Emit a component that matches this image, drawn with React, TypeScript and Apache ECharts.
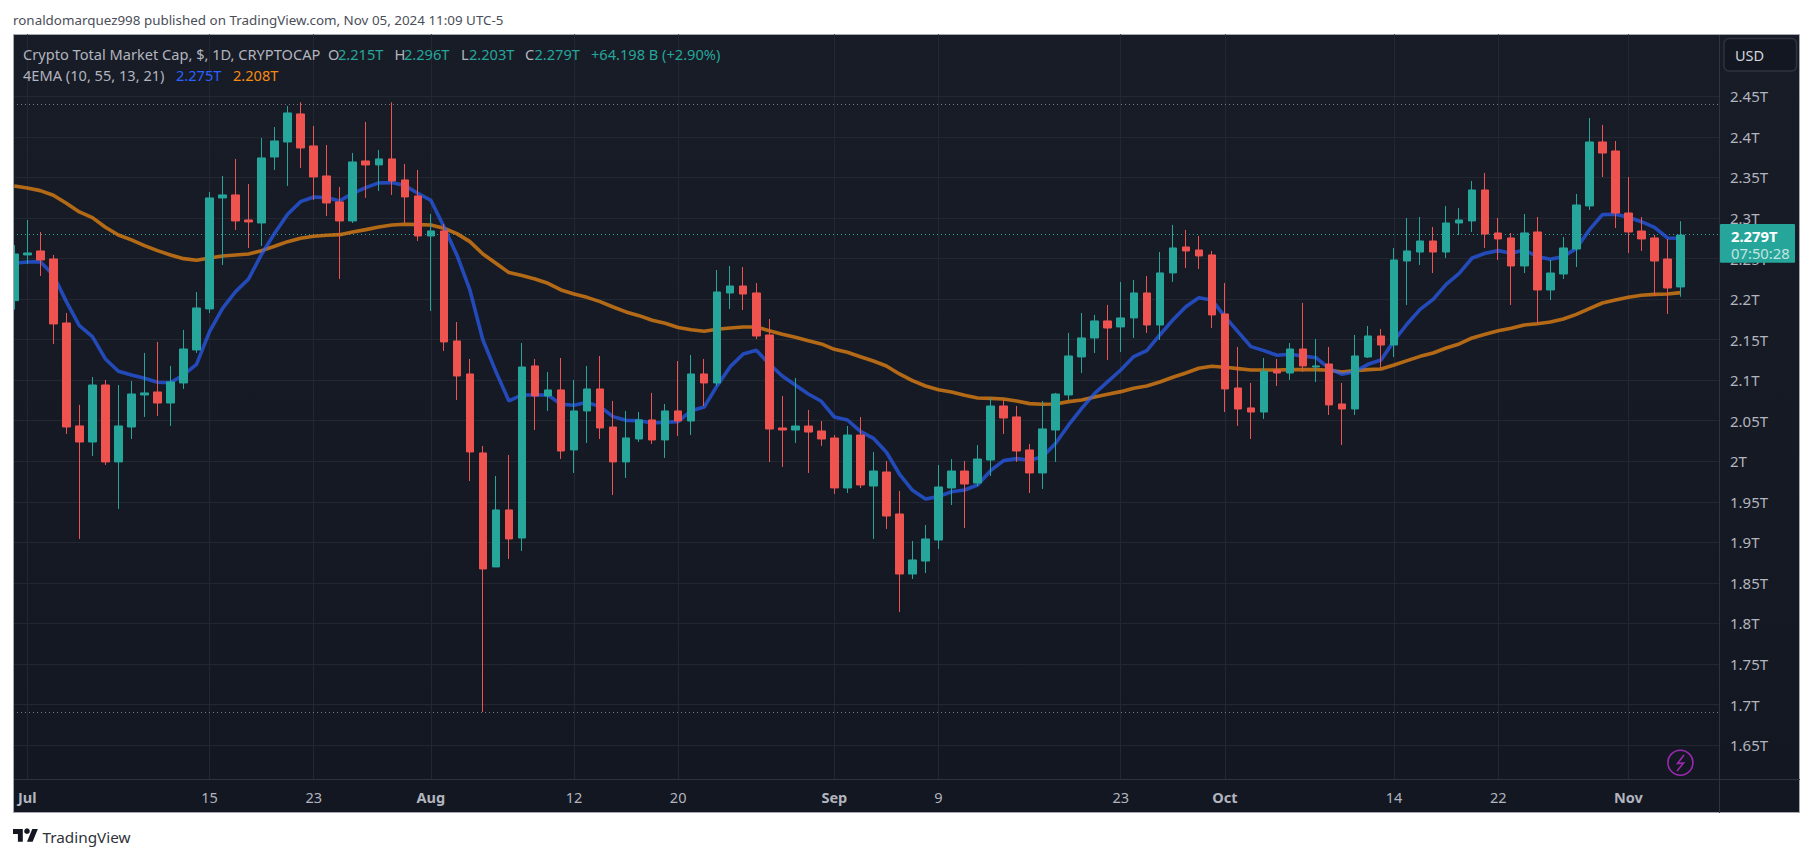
import React, { useEffect, useRef } from "react";
import * as echarts from "echarts";

const FONT = '"Noto Sans", "Open Sans", sans-serif';

// daily candles, Jun 30 2024 .. Nov 5 2024: [open, close, low, high] in trillions of USD
const candles: number[][] = [
  [2.1981,2.2557,2.187,2.2668],[2.2545,2.2569,2.2434,2.2976],[2.2594,2.2483,2.2286,2.2828],[2.2495,2.1694,2.1447,2.2545],
  [2.1706,2.0423,2.0337,2.1829],[2.0436,2.0238,1.9042,2.0695],[2.0238,2.0941,2.0066,2.104],[2.0941,1.9992,1.9955,2.1003],
  [1.9992,2.0436,1.9412,2.0941],[2.0423,2.083,2.0275,2.0991],[2.0818,2.0843,2.0547,2.1336],[2.0855,2.0719,2.0559,2.1472],
  [2.0719,2.0978,2.0436,2.1176],[2.0966,2.1385,2.0892,2.162],[2.1373,2.1891,2.1336,2.2088],[2.1879,2.3248,2.1829,2.3322],
  [2.3248,2.3285,2.2421,2.3519],[2.3285,2.2964,2.2853,2.3729],[2.2976,2.2952,2.2631,2.342],[2.2939,2.3741,2.2656,2.3988],
  [2.3753,2.3951,2.3593,2.4123],[2.3938,2.4296,2.3396,2.4382],[2.4284,2.3864,2.3618,2.4428],[2.3889,2.3507,2.3223,2.4136],
  [2.3519,2.3186,2.3026,2.3901],[2.3198,2.2964,2.2249,2.3383],[2.2964,2.3692,2.2939,2.3803],[2.3704,2.3655,2.3248,2.4185],
  [2.3655,2.3729,2.3334,2.384],[2.3729,2.3457,2.3285,2.4428],[2.347,2.326,2.2939,2.3667],[2.3272,2.2779,2.2717,2.3593],
  [2.2779,2.2841,2.1854,2.305],[2.2841,2.1472,2.1361,2.2927],[2.1484,2.1052,2.0756,2.1718],[2.1077,2.0115,1.9757,2.1262],
  [2.0103,1.8672,1.6908,2.0189],[1.8697,1.94,1.8697,1.9819],[1.94,1.9042,1.8795,2.0078],[1.9054,2.1163,1.8894,2.1459],
  [2.1176,2.0806,2.0386,2.1262],[2.0806,2.088,2.0621,2.1102],[2.088,2.0127,2.0029,2.1274],[2.014,2.0621,1.9856,2.1003],
  [2.0621,2.0892,2.0226,2.1176],[2.0892,2.0411,2.0275,2.1299],[2.0423,1.9992,1.9585,2.0744],[1.9992,2.0288,1.9794,2.0621],
  [2.0275,2.051,2.0238,2.0608],[2.051,2.0263,2.0214,2.0843],[2.0263,2.0621,2.0041,2.0707],[2.0621,2.0497,2.0312,2.1237],
  [2.0497,2.1077,2.0324,2.1311],[2.1077,2.0966,2.0682,2.1262],[2.0966,2.2088,2.0929,2.2359],[2.2076,2.2162,2.1878,2.2409],
  [2.2162,2.2063,2.1866,2.2396],[2.2076,2.1545,2.1508,2.2199],[2.1558,2.0398,1.9991,2.1755],[2.0411,2.0386,1.993,2.0805],
  [2.0386,2.0435,2.0226,2.1027],[2.0435,2.0361,1.9856,2.0633],[2.0374,2.0275,2.0189,2.0497],[2.0287,1.9671,1.9597,2.0324],
  [1.9671,2.0324,1.9609,2.0435],[2.0324,1.9708,1.9671,2.0546],[1.9695,1.988,1.9042,2.0115],[1.9868,1.9325,1.9165,2.0004],
  [1.935,1.861,1.8141,1.9634],[1.861,1.8783,1.8548,1.9017],[1.877,1.9042,1.8622,1.9214],[1.9029,1.9683,1.8918,1.9954],
  [1.9671,1.988,1.9461,2.0028],[1.988,1.972,1.9177,2.0004],[1.9732,2.0028,1.9695,2.0201],[2.0016,2.0682,1.9819,2.0781],
  [2.0682,2.0534,2.0337,2.0756],[2.0547,2.0127,1.9992,2.0682],[2.014,1.9856,1.9609,2.0214],[1.9856,2.0399,1.9659,2.0744],
  [2.0386,2.083,1.9992,2.0843],[2.0818,2.1299,2.0756,2.1583],[2.1287,2.1521,2.1089,2.1829],[2.1521,2.1731,2.1336,2.1805],
  [2.1731,2.1644,2.125,2.1928],[2.1657,2.1768,2.1348,2.2212],[2.1768,2.2076,2.1521,2.2236],[2.2076,2.1681,2.1583,2.2286],
  [2.1681,2.2323,2.1496,2.2582],[2.2323,2.2631,2.2212,2.2915],[2.2643,2.2594,2.2384,2.2853],[2.2606,2.2532,2.2372,2.2779],
  [2.2545,2.1805,2.1644,2.2594],[2.1817,2.0892,2.0608,2.2199],[2.0904,2.0645,2.0436,2.141],[2.0658,2.0608,2.0275,2.0966],
  [2.0608,2.111,2.0522,2.1274],[2.1126,2.1089,2.0929,2.1262],[2.1089,2.1385,2.1003,2.1459],[2.1385,2.1176,2.1102,2.1953],
  [2.1163,2.1176,2.0978,2.1509],[2.12,2.0695,2.0571,2.141],[2.0707,2.0645,2.0201,2.0966],[2.0645,2.1299,2.0571,2.1558],
  [2.1286,2.1545,2.1274,2.1669],[2.1545,2.1434,2.1151,2.1632],[2.1434,2.2483,2.1286,2.2631],[2.247,2.2594,2.1928,2.3001],
  [2.2581,2.2717,2.2421,2.3013],[2.2717,2.2581,2.2322,2.289],[2.2581,2.2939,2.2507,2.3149],[2.2939,2.2976,2.2791,2.3124],
  [2.2964,2.3346,2.2828,2.3457],[2.3346,2.2803,2.2631,2.3556],[2.2816,2.2742,2.2483,2.3001],[2.2754,2.2409,2.1928,2.2816],
  [2.2409,2.2816,2.2322,2.305],[2.2828,2.2113,2.1706,2.3013],[2.2113,2.2322,2.1989,2.2483],[2.231,2.2631,2.2248,2.2766],
  [2.2618,2.3161,2.2396,2.3297],[2.3149,2.3938,2.3099,2.4234],[2.3938,2.3802,2.3506,2.4148],[2.3827,2.3062,2.2877,2.395],
  [2.3062,2.2828,2.2569,2.3506],[2.284,2.2742,2.2594,2.3013],[2.2754,2.247,2.2039,2.2791],[2.2495,2.2137,2.1817,2.2742],
  [2.215,2.279,2.203,2.296],
];

const emaFast: number[] = [
  2.2442,2.2458,2.2462,2.2298,2.1969,2.1673,2.1537,2.1262,2.111,2.1065,2.1023,2.0974,2.097,2.1065,2.1196,2.1599,
  2.1887,2.2092,2.2249,2.2553,2.2812,2.3046,2.3202,2.326,2.3252,2.3211,2.3305,2.3375,2.3433,2.3437,2.34,2.3305,
  2.3219,2.2894,2.2545,2.2113,2.1496,2.1106,2.0744,2.0818,2.0818,2.0818,2.0703,2.0691,2.0727,2.0674,2.0551,2.0505,
  2.0501,2.0473,2.0481,2.0489,2.0624,2.067,2.0933,2.1167,2.1323,2.1369,2.12,2.1052,2.0941,2.083,2.074,2.0546,
  2.0509,2.0369,2.0283,2.0111,1.9843,1.9642,1.9535,1.9564,1.9625,1.9646,1.9708,1.9884,2.0008,2.0033,2.0012,2.0057,
  2.0222,2.0448,2.0653,2.0838,2.0982,2.1126,2.1291,2.1365,2.1558,2.1743,2.1907,2.2018,2.199,2.1784,2.1599,2.1414,
  2.1365,2.1307,2.132,2.1299,2.1278,2.1147,2.1073,2.1105,2.1196,2.1249,2.1488,2.1693,2.1874,2.1997,2.2182,2.2318,
  2.2507,2.2565,2.2598,2.2565,2.2606,2.2524,2.2491,2.2524,2.2626,2.2853,2.3042,2.3046,2.3009,2.2955,2.2886,2.2754,2.275,
];

const emaSlow: number[] = [
  2.3396,2.3371,2.3338,2.3281,2.3182,2.3075,2.3005,2.2886,2.2791,2.273,2.266,2.2598,2.2545,2.2499,2.2479,2.2508,
  2.2532,2.2545,2.2557,2.2598,2.2652,2.2709,2.275,2.2775,2.2787,2.2795,2.2828,2.2857,2.289,2.2915,2.2923,2.2919,
  2.2915,2.2874,2.2808,2.2709,2.2557,2.2442,2.2327,2.229,2.2249,2.2195,2.2113,2.2064,2.2022,2.1969,2.1903,2.1842,
  2.1796,2.1739,2.1702,2.1650,2.1623,2.1603,2.1628,2.1644,2.1656,2.1656,2.1611,2.1566,2.1529,2.1488,2.1447,2.1381,
  2.1344,2.129,2.1237,2.1175,2.1077,2.0994,2.0929,2.0883,2.0855,2.0814,2.0781,2.0776,2.0768,2.0744,2.0711,2.0703,
  2.0707,2.0736,2.0756,2.0793,2.0826,2.0859,2.09,2.0929,2.0978,2.1036,2.1089,2.1147,2.1172,2.1159,2.1143,2.1126,
  2.1126,2.1126,2.113,2.113,2.113,2.1122,2.1102,2.1118,2.113,2.1138,2.1188,2.1241,2.1294,2.1336,2.1397,2.1447,
  2.1521,2.1566,2.1611,2.164,2.1681,2.1697,2.1718,2.1755,2.1812,2.1882,2.1952,2.1989,2.2022,2.2047,2.2059,2.2063,2.208,
];

const timeTickDays = [1, 15, 23, 32, 43, 51, 63, 71, 85, 93, 106, 114, 124];
const timeTickLabels = ["Jul", "15", "23", "Aug", "12", "20", "Sep", "9", "23", "Oct", "14", "22", "Nov"];
const monthLabels = ["Jul", "Aug", "Sep", "Oct", "Nov"];
const priceTicks = [1.65, 1.7, 1.75, 1.8, 1.85, 1.9, 1.95, 2, 2.05, 2.1, 2.15, 2.2, 2.25, 2.3, 2.35, 2.4, 2.45];

const PERIOD_HIGH = 2.4428;
const PERIOD_LOW = 1.6904;
const LAST_PRICE = 2.279;

const UP = "#26a69a";
const DOWN = "#ef5350";
const GRID = "#232731";
const SEP = "#2f333e";
const TEXT = "#b2b5be";
const BLUE = "#2962ff";
const ORANGE = "#f68b10";

const ohlcLegend = [
  { text: "O", x: 328, c: TEXT }, { text: "2.215T", x: 338, c: UP },
  { text: "H", x: 394.5, c: TEXT }, { text: "2.296T", x: 404, c: UP },
  { text: "L", x: 461, c: TEXT }, { text: "2.203T", x: 469, c: UP },
  { text: "C", x: 525, c: TEXT }, { text: "2.279T", x: 534.5, c: UP },
  { text: "+64.198 B (+2.90%)", x: 591, c: UP },
];

echarts.graphic.registerShape(
  "tvLogo",
  echarts.graphic.extendPath("M14 22H7V11H0V4h14v18ZM28 22h-8l7.5-18h8L28 22Z", {})
);

function label(text: string, x: number, y: number, fill: string, size = 14.6, weight = "") {
  return {
    type: "text",
    x,
    y,
    z: 100,
    silent: true,
    style: { text, fill, font: `${weight} ${size}px ${FONT}`.trim(), verticalAlign: "middle" },
  };
}

export default function App() {
  const ref = useRef<HTMLDivElement>(null);
  useEffect(() => {
    const chart = echarts.init(ref.current!, undefined, { renderer: "svg" });
    const days = candles.map((_, i) => i);
    chart.setOption({
      animation: false,
      backgroundColor: "#ffffff",
      textStyle: { fontFamily: FONT },
      grid: { left: 13, top: 34.3, right: 95, bottom: 78.7, containLabel: false },
      xAxis: {
        type: "value",
        min: -0.0984,
        max: 130.96,
        axisLine: { show: false },
        axisTick: { show: false, customValues: timeTickDays },
        splitLine: { show: true, lineStyle: { color: GRID, width: 1 } },
        axisLabel: {
          customValues: timeTickDays,
          margin: 10,
          color: TEXT,
          fontSize: 14.5,
          fontFamily: FONT,
          formatter: (v: number) => {
            const t = timeTickLabels[timeTickDays.indexOf(Math.round(v))] ?? "";
            return monthLabels.includes(t) ? `{m|${t}}` : t;
          },
          rich: { m: { color: TEXT, fontSize: 14.5, fontWeight: "bold", fontFamily: FONT } },
        },
      },
      yAxis: {
        type: "value",
        position: "right",
        min: 1.6078,
        max: 2.5266,
        axisLine: { show: false },
        axisTick: { show: false, customValues: priceTicks },
        splitLine: { show: true, lineStyle: { color: GRID, width: 1 } },
        axisLabel: {
          customValues: priceTicks,
          margin: 11,
          color: TEXT,
          fontSize: 15,
          fontFamily: FONT,
          formatter: (v: number) => `${+v.toFixed(2)}T`,
        },
      },
      series: [
        {
          type: "line",
          name: "EMA 55",
          data: days.map((d) => [d, emaSlow[d]]),
          symbol: "none",
          z: 2,
          lineStyle: { color: ORANGE, width: 3.6, opacity: 0.7 },
        },
        {
          type: "line",
          name: "EMA 10",
          data: days.map((d) => [d, emaFast[d]]),
          symbol: "none",
          z: 2,
          lineStyle: { color: BLUE, width: 3.6, opacity: 0.68 },
        },
        {
          type: "candlestick",
          name: "TOTAL",
          z: 3,
          clip: true,
          barWidth: 8,
          data: days.map((d) => [d, ...candles[d]]),
          itemStyle: { color: UP, color0: DOWN, borderColor: UP, borderColor0: DOWN, borderWidth: 1 },
          markLine: {
            silent: true,
            symbol: ["none", "none"],
            label: { show: false },
            animation: false,
            z: 1,
            data: [
              { yAxis: PERIOD_HIGH, lineStyle: { color: "#787b86", type: [1, 3], width: 1, opacity: 1 } },
              { yAxis: PERIOD_LOW, lineStyle: { color: "#787b86", type: [1, 3], width: 1, opacity: 1 } },
              { yAxis: LAST_PRICE, lineStyle: { color: UP, type: [1, 3], width: 1, opacity: 1 } },
            ],
          },
        },
      ],
      graphic: {
        elements: [
          {
            type: "rect",
            z: -10,
            silent: true,
            shape: { x: 13.5, y: 34.5, width: 1786, height: 778 },
            style: {
              fill: {
                type: "linear", x: 0, y: 0, x2: 0, y2: 1,
                colorStops: [{ offset: 0, color: "#181c27" }, { offset: 1, color: "#131722" }],
              },
              stroke: "#a5a8b0",
              lineWidth: 1,
            },
          },
          { type: "line", z: 1, silent: true, shape: { x1: 14, y1: 779.5, x2: 1800, y2: 779.5 }, style: { stroke: SEP, lineWidth: 1 } },
          { type: "line", z: 1, silent: true, shape: { x1: 1719.5, y1: 35, x2: 1719.5, y2: 813 }, style: { stroke: SEP, lineWidth: 1 } },

          // page margin and frame edge over the part of the first candle that leaves the pane
          { type: "rect", z: 90, silent: true, shape: { x: 0, y: 34, width: 13, height: 780 }, style: { fill: "#ffffff" } },
          { type: "line", z: 91, silent: true, shape: { x1: 13.5, y1: 34.5, x2: 13.5, y2: 812.5 }, style: { stroke: "#a5a8b0", lineWidth: 1 } },

          label("ronaldomarquez998 published on TradingView.com, Nov 05, 2024 11:09 UTC-5", 13, 20, "#4a4e59", 13.4),
          label("Crypto Total Market Cap, $, 1D, CRYPTOCAP", 23, 54, TEXT),
          ...ohlcLegend.map((e) => label(e.text, e.x, 54, e.c)),
          label("4EMA (10, 55, 13, 21)", 23, 75, TEXT),
          label("2.275T", 176, 75, BLUE),
          label("2.208T", 233, 75, ORANGE),

          {
            type: "rect", z: 100, silent: true,
            shape: { x: 1724, y: 38.5, width: 72.5, height: 32.5, r: 5 },
            style: { fill: "#131722", stroke: "#2f333e", lineWidth: 1.5 },
          },
          label("USD", 1735, 55, "#d1d4dc", 14.5),

          {
            type: "rect", z: 100, silent: true,
            shape: { x: 1720, y: 224, width: 75, height: 38.7, r: 1 },
            style: { fill: UP },
          },
          label("2.279T", 1731, 236, "#ffffff", 14.8, "bold"),
          label("07:50:28", 1731, 253, "rgba(255,255,255,0.72)", 14.8),

          {
            type: "ellipse", z: 100, silent: true,
            shape: { cx: 1680.4, cy: 762.7, rx: 12.5, ry: 12.5 },
            style: { fill: "none", stroke: "#9c27b0", lineWidth: 1.6 },
          },
          {
            type: "polyline", z: 100, silent: true,
            shape: { points: [[1684, 755], [1677.5, 763.5], [1683.5, 763], [1677, 771]] },
            style: { fill: "none", stroke: "#9c27b0", lineWidth: 1.6 },
          },

          {
            type: "tvLogo", z: 100, silent: true,
            x: 13, y: 826.3, scaleX: 0.7, scaleY: 0.7,
            style: { fill: "#131722" },
          },
          {
            type: "circle", z: 100, silent: true,
            shape: { cx: 27, cy: 831.2, r: 2.8 },
            style: { fill: "#131722" },
          },
          label("TradingView", 42.5, 836.5, "#2e3239", 15.3),
        ],
      },
    });
    return () => chart.dispose();
  }, []);
  return <div ref={ref} style={{ position: "absolute", left: 0, top: 0, width: 1814, height: 858 }} />;
}
